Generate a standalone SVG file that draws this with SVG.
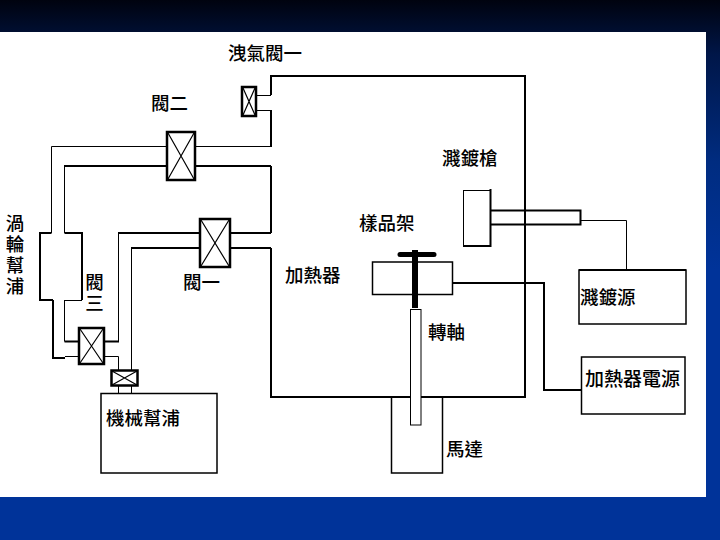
<svg xmlns="http://www.w3.org/2000/svg" width="720" height="540" viewBox="0 0 720 540">
<style>
.t{font-family:"Noto Sans CJK TC","Liberation Sans",sans-serif;font-size:18.500px;font-weight:500;fill:#000}
.vt{writing-mode:vertical-rl;letter-spacing:2.500px}
.s{fill:#fff;stroke:#000;stroke-width:1.500}
.v{fill:#fff;stroke:#000;stroke-width:2.500}
.x{fill:none;stroke:#000;stroke-width:1.200}
.c{fill:none;stroke:#000;stroke-width:1}
.h{fill:none;stroke:#000;stroke-width:2}
</style>
<defs><linearGradient id="bg" x1="0" y1="0" x2="0" y2="1">
<stop offset="0" stop-color="#00030f"/><stop offset="0.1" stop-color="#001648"/><stop offset="0.3" stop-color="#002c80"/><stop offset="0.5" stop-color="#003399"/><stop offset="1" stop-color="#003399"/>
</linearGradient></defs>
<rect width="720" height="540" fill="url(#bg)"/>
<rect x="0" y="32" width="706" height="465" fill="#fff"/>
<g id="connectors">
<path class="h" d="M271 95V76H525V397H271V248M271 233V166M271 147V110"/>
<path class="c" d="M256 95.500H271M256 110.500H271"/>
<path class="c" d="M195 146.500H271M167 146.500H51.500V233"/>
<path class="h" d="M195 166H271M167 166H64"/>
<path class="c" d="M64.500 165V233"/>
<path class="h" d="M230 233H271M230 248H271"/>
<path class="h" d="M200 233H118M104 341.500H119"/>
<path class="c" d="M118.500 232V341.500"/>
<path class="h" d="M200 248H131"/>
<path class="c" d="M131.500 248V370"/>
<path class="c" d="M104 356.500H118.500V370M118.500 385V393M131.500 385V393"/>
<path class="h" d="M79 341.500H64.500"/>
<path class="c" d="M64.500 300V341.500M79 356.500H65"/>
<path class="h" d="M65 358H53V300"/>
<path class="c" d="M581 220.500H626.500V270"/>
<path class="h" d="M490 210.500H580.500V224.500H490"/>
<path class="h" d="M452 283H544V390H581"/>
</g>
<g id="turbo-pump"><path class="h" d="M51.500 233H40V300H53"/><path class="h" d="M64.500 233H82V300"/><path class="c" d="M64 300.500H82"/></g>
<g id="vent-valve"><rect class="v" x="242" y="87" width="14" height="29"/><path class="x" d="M243 88L255 115M255 88L243 115"/></g>
<g id="valve-2"><rect class="v" x="167" y="132" width="28" height="48"/><path class="x" d="M168 133L194 179M194 133L168 179"/></g>
<g id="valve-1"><rect class="v" x="200" y="219" width="30" height="48"/><path class="x" d="M201 220L229 266M229 220L201 266"/></g>
<g id="valve-3"><rect class="v" x="79" y="328" width="25" height="36"/><path class="x" d="M80 329L103 363M103 329L80 363"/></g>
<g id="valve-small"><rect class="v" x="111.500" y="370.500" width="26" height="15"/><path class="x" d="M112 371L137 385M137 371L112 385"/></g>
<g id="mech-pump"><rect class="s" x="101" y="393.500" width="116" height="79.500"/></g>
<g id="gun"><path class="c" d="M463.500 190V246M463 190.500H490"/><path class="h" d="M463 246H491M490.500 189V247"/></g>
<g id="heater"><rect class="s" x="372.500" y="262" width="80" height="32.500"/></g>
<g id="motor"><rect class="s" x="391.500" y="397" width="51" height="76"/><path d="M391 397H442" stroke="#000" stroke-width="2"/></g>
<g id="shaft"><rect class="c" style="fill:#fff" x="410.500" y="309.500" width="10.500" height="115.500"/></g>
<g id="holder"><path d="M415 250V308" stroke="#000" stroke-width="6" fill="none"/><path d="M400 254.500H434" stroke="#000" stroke-width="5" stroke-linecap="round" fill="none"/></g>
<g id="sputter-source"><rect class="s" x="579" y="270" width="107" height="54"/><path d="M579 270H686" stroke="#000" stroke-width="2"/></g>
<g id="heater-power"><rect class="s" x="581.500" y="357" width="103.500" height="57"/></g>
<g id="labels">
<text class="t" x="228" y="60">洩氣閥一</text>
<text class="t" x="151" y="110">閥二</text>
<text class="t" x="442" y="165">濺鍍槍</text>
<text class="t" x="359" y="230">樣品架</text>
<text class="t" x="285" y="282">加熱器</text>
<text class="t" x="183" y="289">閥一</text>
<text class="t" x="428" y="339">轉軸</text>
<text class="t" x="446" y="456">馬達</text>
<text class="t" x="580" y="304">濺鍍源</text>
<text class="t" x="585" y="386" style="font-size:19px">加熱器電源</text>
<text class="t" x="106" y="425">機械幫浦</text>
<text class="t vt" x="15" y="214">渦輪幫浦</text>
<text class="t vt" x="94.500" y="273">閥三</text>
</g>
</svg>
